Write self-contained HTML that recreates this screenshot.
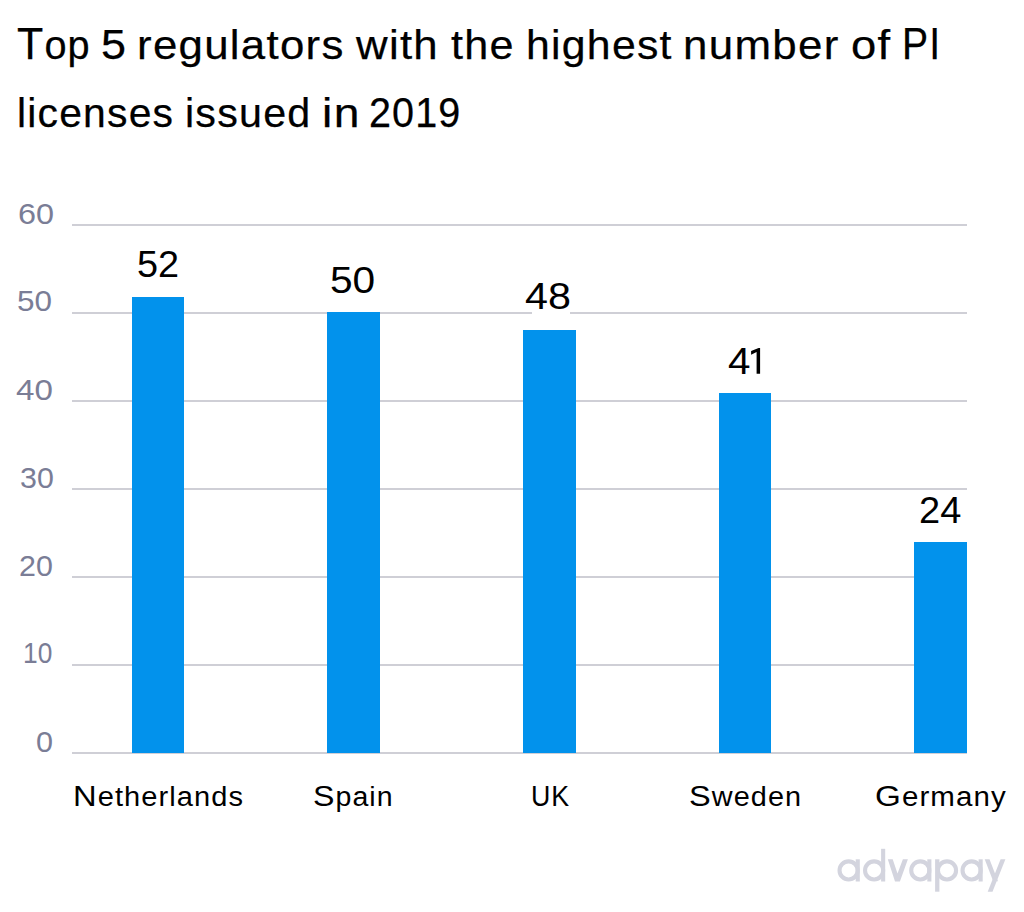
<!DOCTYPE html>
<html><head><meta charset="utf-8">
<style>
html,body{margin:0;padding:0;background:#fff;}
body{width:1024px;height:912px;position:relative;overflow:hidden;font-family:"Liberation Sans",sans-serif;}
.t{position:absolute;white-space:nowrap;line-height:60px;transform-origin:0 0;margin:0;padding:0;}
.k{color:#000;}
.c{line-height:0;}
.gy{color:#7a7d96;}
.g{position:absolute;left:72px;width:895px;height:2px;background:#cfcfd6;}
.bar{position:absolute;width:53px;background:#0292ec;}
</style></head><body>
<div class="g" style="top:224px"></div>
<div class="g" style="top:312px"></div>
<div class="g" style="top:400px"></div>
<div class="g" style="top:488px"></div>
<div class="g" style="top:576px"></div>
<div class="g" style="top:664px"></div>
<div class="g" style="top:752px"></div>
<div class="bar" style="left:132px;width:52px;top:297px;height:456px"></div>
<div class="bar" style="left:327px;width:53px;top:312px;height:441px"></div>
<div class="bar" style="left:523px;width:53px;top:330px;height:423px"></div>
<div class="bar" style="left:719px;width:52px;top:393px;height:360px"></div>
<div class="bar" style="left:914px;width:53px;top:542px;height:211px"></div>
<div class="mask" style="position:absolute;left:532px;top:311px;width:38px;height:4px;background:#fff"></div>
<svg id="logo" style="position:absolute;left:0;top:0" width="1024" height="912" viewBox="0 0 1024 912">
<g fill="none" stroke="#d3d4de" stroke-width="4.1">
<circle cx="848.6" cy="870.4" r="9.05"/>
<circle cx="874.1" cy="870.4" r="9.05"/>
<circle cx="920.3" cy="870.4" r="9.05"/>
<circle cx="947.0" cy="870.4" r="9.05"/>
<circle cx="971.6" cy="870.4" r="9.05"/>
</g>
<g fill="#d3d4de">
<rect x="855.7" y="859.3" width="4.1" height="22.2"/>
<rect x="881.1" y="848.8" width="4.1" height="32.7"/>
<polygon points="887.8,859.3 892.7,859.3 897.5,873.6 902.9,859.3 907.9,859.3 899.9,881.5 895.0,881.5"/>
<rect x="927.3" y="859.3" width="4.1" height="22.2"/>
<rect x="935.1" y="859.3" width="4.3" height="32.4"/>
<rect x="978.6" y="859.3" width="4.1" height="22.2"/>
<polygon points="984.7,859.3 989.5,859.3 998.0,881.2 993.2,881.2"/>
<polygon points="1000.6,859.3 1005.4,859.3 992.5,891.7 987.7,891.7"/>
</g>
</svg>
<svg class="one" style="position:absolute;left:0;top:0" width="1024" height="912"><polygon fill="#000" points="751.1,350.9 758.6,347.9 760.1,347.9 760.1,373.7 756.6,373.7 756.6,352.0 751.1,354.7"/></svg>
<div class="t k" id="a0" style="left:17.34px;top:15.35px;font-size:40.70px;transform:scaleX(0.9752);-webkit-text-stroke:0.25px #000;letter-spacing:1.2px;"><span class="c" style="font-size:44.00px">T</span>op</div>
<div class="t k" id="a1" style="left:101.39px;top:15.35px;font-size:40.70px;transform:scaleX(1.0642);-webkit-text-stroke:0.25px #000;letter-spacing:1.2px;"><span class="c" style="font-size:42.24px">5</span></div>
<div class="t k" id="a2" style="left:136.69px;top:15.35px;font-size:40.70px;transform:scaleX(1.0765);-webkit-text-stroke:0.25px #000;letter-spacing:1.2px;">regulators</div>
<div class="t k" id="a3" style="left:356.29px;top:15.35px;font-size:40.70px;transform:scaleX(1.0755);-webkit-text-stroke:0.25px #000;letter-spacing:1.2px;">with</div>
<div class="t k" id="a4" style="left:450.81px;top:15.35px;font-size:40.70px;transform:scaleX(1.0601);-webkit-text-stroke:0.25px #000;letter-spacing:1.2px;">the</div>
<div class="t k" id="a5" style="left:525.56px;top:15.35px;font-size:40.70px;transform:scaleX(1.0512);-webkit-text-stroke:0.25px #000;letter-spacing:1.2px;">highest</div>
<div class="t k" id="a6" style="left:683.35px;top:15.35px;font-size:40.70px;transform:scaleX(1.0785);-webkit-text-stroke:0.25px #000;letter-spacing:1.2px;">number</div>
<div class="t k" id="a7" style="left:851.33px;top:15.35px;font-size:40.70px;transform:scaleX(1.1148);-webkit-text-stroke:0.25px #000;letter-spacing:1.2px;">of</div>
<div class="t k" id="a8" style="left:901.91px;top:15.35px;font-size:40.70px;transform:scaleX(0.8887);-webkit-text-stroke:0.25px #000;letter-spacing:1.2px;"><span class="c" style="font-size:44.00px">P</span><span class="c" style="font-size:44.00px">I</span></div>
<div class="t k" id="b0" style="left:17.42px;top:83.40px;font-size:40.70px;transform:scaleX(1.0037);-webkit-text-stroke:0.25px #000;letter-spacing:1.2px;">licenses</div>
<div class="t k" id="b1" style="left:185.04px;top:83.40px;font-size:40.70px;transform:scaleX(1.0129);-webkit-text-stroke:0.25px #000;letter-spacing:1.2px;">issued</div>
<div class="t k" id="b2" style="left:321.99px;top:83.40px;font-size:40.70px;transform:scaleX(1.1371);-webkit-text-stroke:0.25px #000;letter-spacing:1.2px;">in</div>
<div class="t k" id="b3" style="left:369.26px;top:83.40px;font-size:40.70px;transform:scaleX(0.9361);-webkit-text-stroke:0.25px #000;letter-spacing:1.2px;"><span class="c" style="font-size:42.24px">2</span><span class="c" style="font-size:42.24px">0</span><span class="c" style="font-size:42.24px">1</span><span class="c" style="font-size:42.24px">9</span></div>
<div class="t gy" id="y60" style="left:17.92px;top:184.07px;font-size:29.60px;transform:scaleX(1.0947);">60</div>
<div class="t gy" id="y50" style="left:17.25px;top:271.47px;font-size:29.60px;transform:scaleX(1.0637);">50</div>
<div class="t gy" id="y40" style="left:16.36px;top:360.07px;font-size:29.60px;transform:scaleX(1.1200);">40</div>
<div class="t gy" id="y30" style="left:19.59px;top:447.67px;font-size:29.60px;transform:scaleX(1.0260);">30</div>
<div class="t gy" id="y20" style="left:18.83px;top:535.67px;font-size:29.60px;transform:scaleX(1.0279);">20</div>
<div class="t gy" id="y10" style="left:22.90px;top:623.19px;font-size:29.60px;transform:scaleX(0.8894);">10</div>
<div class="t gy" id="y0" style="left:35.98px;top:711.87px;font-size:29.60px;transform:scaleX(1.0337);">0</div>
<div class="t k" id="v52" style="left:137.14px;top:235.17px;font-size:37.00px;transform:scaleX(1.0228);">52</div>
<div class="t k" id="v50" style="left:329.51px;top:250.66px;font-size:37.00px;transform:scaleX(1.0988);">50</div>
<div class="t k" id="v48" style="left:525.45px;top:267.33px;font-size:37.00px;transform:scaleX(1.1148);">48</div>
<div class="t k" id="v41a" style="left:727.80px;top:331.64px;font-size:37.00px;transform:scaleX(1.0896);">4</div>
<div class="t k" id="v24" style="left:918.53px;top:480.78px;font-size:37.00px;transform:scaleX(1.0266);">24</div>
<div class="t k" id="x1" style="left:73.28px;top:767.07px;font-size:26.80px;transform:scaleX(1.0837);letter-spacing:1.0px;"><span class="c" style="font-size:30.20px">N</span>etherlands</div>
<div class="t k" id="x2" style="left:312.57px;top:767.07px;font-size:26.80px;transform:scaleX(1.0643);letter-spacing:1.0px;"><span class="c" style="font-size:30.20px">S</span>pain</div>
<div class="t k" id="x3" style="left:531.19px;top:767.07px;font-size:26.80px;transform:scaleX(0.8880);letter-spacing:1.0px;"><span class="c" style="font-size:30.20px">U</span><span class="c" style="font-size:30.20px">K</span></div>
<div class="t k" id="x4" style="left:689.08px;top:767.07px;font-size:26.80px;transform:scaleX(1.0763);letter-spacing:1.0px;"><span class="c" style="font-size:30.20px">S</span>weden</div>
<div class="t k" id="x5" style="left:874.57px;top:767.07px;font-size:26.80px;transform:scaleX(1.1006);letter-spacing:1.0px;"><span class="c" style="font-size:30.20px">G</span>ermany</div>
</body></html>
